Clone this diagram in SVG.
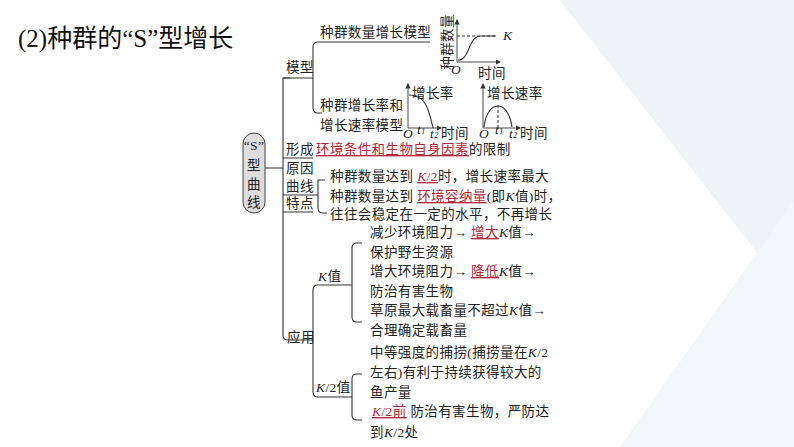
<svg xmlns="http://www.w3.org/2000/svg" width="794" height="447" viewBox="0 0 794 447">
<style>
.t{font-family:"Liberation Serif","Noto Sans CJK SC",serif;font-size:13.5px;letter-spacing:0.4px;fill:#222}
.r{fill:#b0283a;text-decoration:underline}
.i{font-style:italic}
.l{fill:none;stroke:#333;stroke-width:1.1}
.u{stroke:#333;stroke-width:0.9}
</style>
<defs><marker id="a" markerWidth="6" markerHeight="6" refX="5" refY="3" orient="auto"><path d="M0,0L6,3L0,6z" fill="#333"/></marker></defs>
<rect width="794" height="447" fill="#fff"/>
<polygon points="560,0 794,0 794,300" fill="#eef3f6"/>
<polygon points="620,447 794,200 794,447" fill="#f2f6f8"/>
<text x="18" y="47" font-family="Liberation Serif,Noto Sans CJK SC,serif" font-size="25" fill="#111">(2)种群的“S”型增长</text>
<g id="pill"><rect x="243" y="133" width="22" height="80" rx="11" fill="#ddd" stroke="#444"/>
<text class="t" x="254" y="150" text-anchor="middle">“S”</text><text class="t" x="254" y="170" text-anchor="middle">型</text><text class="t" x="254" y="189" text-anchor="middle">曲</text><text class="t" x="254" y="207" text-anchor="middle">线</text></g>
<g id="connectors">
<path class="l" d="M265,168H283M290,78H283V335q0,5 5,5H313"/>
<path class="l" d="M283,78H313M430,42H318q-5,0 -5,5V108q0,5 5,5H322"/>
<path class="l" d="M283,158H313M283,195H313"/>
<path class="l" d="M313,195H318M325,180H318V208q0,5 5,5H327M283,212H313"/>
<path class="l" d="M313,340V290q0,-5 5,-5H352M313,340V392q0,5 5,5H352"/>
<path class="l" d="M362,243h-5q-5,0 -5,5V317q0,5 5,5h5"/>
<path class="l" d="M362,374h-5q-5,0 -5,5V415q0,5 5,5h5"/>
</g>
<g id="labels">
<text class="t" x="286" y="72">模型</text><text class="t" x="286" y="154">形成</text><text class="t" x="286" y="173">原因</text><text class="t" x="286" y="191">曲线</text><text class="t" x="286" y="208">特点</text><text class="t" x="287" y="342">应用</text>
<text class="t" x="318" y="281"><tspan class="i">K</tspan>值</text><text class="t" x="316" y="392"><tspan class="i">K</tspan>/2值</text>
</g>
<g id="model">
<text class="t" x="320" y="37">种群数量增长模型</text>
<text class="t" x="320" y="110" letter-spacing="0">种群增长率和</text><text class="t" x="320" y="130" letter-spacing="0">增长速率模型</text>
<line class="u" x1="457" y1="62" x2="457" y2="20" marker-end="url(#a)"/><line class="u" x1="457" y1="62" x2="500" y2="62" marker-end="url(#a)"/>
<line x1="457" y1="36" x2="496" y2="36" stroke="#333" stroke-dasharray="3,2"/>
<path class="l" d="M458,60C470,60 468,37 480,36H496"/>
<text class="t i" x="503" y="40">K</text>
<text class="t" x="0" y="0" text-anchor="middle" font-size="12" letter-spacing="0" transform="translate(452,42) rotate(-90)">种群数量</text>
<text class="t i" x="451" y="74">O</text><text class="t" x="478" y="78">时间</text>
<line class="u" x1="408" y1="128" x2="408" y2="84" marker-end="url(#a)"/><line class="u" x1="408" y1="128" x2="441" y2="128" marker-end="url(#a)"/>
<path class="l" d="M409,95C426,95 429,110 433,128"/>
<text class="t" x="412" y="98">增长率</text>
<text class="t i" x="403" y="138">O</text><text class="t i" x="417" y="134" font-size="11">t<tspan font-size="8">1</tspan></text><text class="t i" x="430" y="138" font-size="11">t<tspan font-size="8">2</tspan></text><text class="t" x="441" y="138">时间</text>
<line class="u" x1="483" y1="128" x2="483" y2="84" marker-end="url(#a)"/><line class="u" x1="483" y1="128" x2="520" y2="128" marker-end="url(#a)"/>
<path class="l" d="M484,127C487,100 508,98 512,127"/>
<line x1="498" y1="105" x2="498" y2="128" stroke="#333" stroke-dasharray="3,2"/>
<text class="t" x="487" y="98">增长速率</text>
<text class="t i" x="479" y="138">O</text><text class="t i" x="495" y="134" font-size="11">t<tspan font-size="8">1</tspan></text><text class="t i" x="509" y="138" font-size="11">t<tspan font-size="8">2</tspan></text><text class="t" x="520" y="138">时间</text>
</g>
<g id="cause"><text class="t" x="316" y="154"><tspan class="r">环境条件和生物自身因素</tspan>的限制</text></g>
<g id="feature">
<text class="t" x="330" y="181">种群数量达到 <tspan class="r i">K</tspan><tspan class="r">/2</tspan>时，增长速率最大</text>
<text class="t" x="330" y="201">种群数量达到 <tspan class="r">环境容纳量</tspan>(即<tspan class="i">K</tspan>值)时，</text>
<text class="t" x="330" y="219">往往会稳定在一定的水平，不再增长</text>
</g>
<g id="kvalue">
<text class="t" x="370" y="237">减少环境阻力→ <tspan class="r">增大</tspan><tspan class="i">K</tspan>值→</text>
<text class="t" x="370" y="257">保护野生资源</text>
<text class="t" x="370" y="276">增大环境阻力→ <tspan class="r">降低</tspan><tspan class="i">K</tspan>值→</text>
<text class="t" x="370" y="296">防治有害生物</text>
<text class="t" x="370" y="315">草原最大载畜量不超过<tspan class="i">K</tspan>值→</text>
<text class="t" x="370" y="335">合理确定载畜量</text>
</g>
<g id="k2value">
<text class="t" x="370" y="357">中等强度的捕捞(捕捞量在<tspan class="i">K</tspan>/2</text>
<text class="t" x="370" y="377">左右)有利于持续获得较大的</text>
<text class="t" x="370" y="397">鱼产量</text>
<text class="t" x="372" y="416"><tspan class="r i">K</tspan><tspan class="r">/2前</tspan> 防治有害生物，严防达</text>
<text class="t" x="370" y="437">到<tspan class="i">K</tspan>/2处</text>
</g>
</svg>
